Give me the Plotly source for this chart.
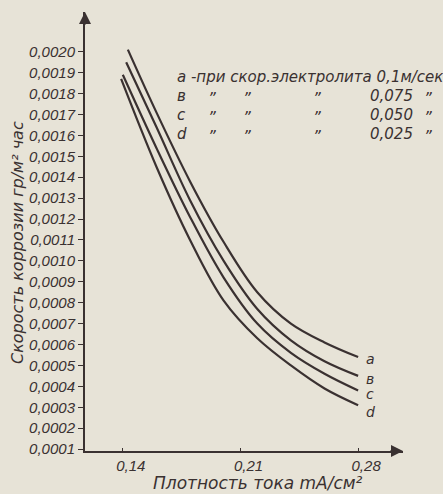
import plotly.graph_objects as go

# ---- data ----
x_a = [0.143, 0.16, 0.18, 0.20, 0.22, 0.24, 0.26, 0.28]
y_a = [0.00201, 0.00171, 0.00138, 0.00109, 0.00085, 0.00070, 0.00061, 0.00054]
x_b = [0.142, 0.16, 0.18, 0.20, 0.22, 0.24, 0.26, 0.28]
y_b = [0.00195, 0.00164, 0.00129, 0.00100, 0.00077, 0.00062, 0.00052, 0.00045]
x_c = [0.140, 0.16, 0.18, 0.20, 0.22, 0.24, 0.26, 0.28]
y_c = [0.00189, 0.00154, 0.00121, 0.00092, 0.00070, 0.00056, 0.00046, 0.00038]
x_d = [0.139, 0.16, 0.18, 0.20, 0.22, 0.24, 0.26, 0.28]
y_d = [0.00187, 0.00145, 0.00110, 0.00081, 0.00063, 0.00050, 0.00039, 0.00031]

curve_labels = ["a", "в", "c", "d"]
speeds = ["0,1м/сек", "0,075", "0,050", "0,025"]

x_tickvals = [0.14, 0.21, 0.28]
x_ticktext = ["0,14", "0,21", "0,28"]
y_tickvals = [i / 10000 for i in range(1, 21)]
y_ticktext = ["0,%04d" % i for i in range(1, 21)]

x_title = "Плотность тока mA/см²"
y_title = "Скорость коррозии гр/м² час"

# ---- style ----
BG = "#e7e3d7"
INK = "#3a3131"
FONT = "Liberation Sans, DejaVu Sans, sans-serif"
FONT2 = "DejaVu Sans, Liberation Sans, sans-serif"

W, H = 443, 494
L, R, T, B = 85, 40, 12, 43
PW, PH = W - L - R, H - T - B


def pp(px, py):
    return (px - L) / PW, (H - B - py) / PH


fig = go.Figure()
series = [(x_a, y_a), (x_b, y_b), (x_c, y_c), (x_d, y_d)]
for (xs, ys), lab in zip(series, curve_labels):
    fig.add_trace(go.Scatter(x=xs, y=ys, mode="lines", name=lab,
                             line=dict(color=INK, width=2.2, shape="spline", smoothing=1.0),
                             hoverinfo="skip"))

annotations = []
# curve-end labels
for (xs, ys), lab, ysh in zip(series, curve_labels, [-2, -3, -3, -7]):
    annotations.append(dict(x=xs[-1], y=ys[-1], xref="x", yref="y", text=lab, showarrow=False,
                            xanchor="left", yanchor="middle", xshift=6, yshift=ysh,
                            font=dict(family=FONT2, size=14, color=INK, style="italic")))

# legend block
rows_py = [77, 96, 115, 134]
lx, ly = pp(175, rows_py[0])
annotations.append(dict(x=lx, y=ly, xref="paper", yref="paper", showarrow=False,
                        xanchor="left", yanchor="middle",
                        text=curve_labels[0] + " -при скор.электролита " + speeds[0],
                        font=dict(family=FONT2, size=15, color=INK, style="italic")))
for i in range(1, 4):
    py = rows_py[i]
    for px, txt, anc in [(175, curve_labels[i], "left"), (212, "”", "center"),
                         (247, "”", "center"), (317, "”", "center"),
                         (368, speeds[i], "left"), (428, "”", "center")]:
        ax_, ay_ = pp(px, py)
        annotations.append(dict(x=ax_, y=ay_, xref="paper", yref="paper", showarrow=False,
                                xanchor=anc, yanchor="middle", text=txt,
                                yshift=-3 if txt == "”" else 0,
                                font=dict(family=FONT2, size=15,
                                          color=INK, style="italic")))

# axis titles
tx, ty = pp(258, 483)
annotations.append(dict(x=tx, y=ty, xref="paper", yref="paper", showarrow=False,
                        xanchor="center", yanchor="middle", text=x_title,
                        font=dict(family=FONT2, size=17, color=INK, style="italic")))
tx, ty = pp(17, 243)
annotations.append(dict(x=tx, y=ty, xref="paper", yref="paper", showarrow=False,
                        xanchor="center", yanchor="middle", text=y_title, textangle=-90,
                        font=dict(family=FONT2, size=16, color=INK, style="italic")))

# axis arrows
annotations.append(dict(x=1, y=0, xref="paper", yref="paper", ax=-14, ay=0, text="",
                        showarrow=True, arrowhead=2, arrowsize=1.2, arrowwidth=2, arrowcolor=INK))
annotations.append(dict(x=0, y=1, xref="paper", yref="paper", ax=0, ay=14, text="",
                        showarrow=True, arrowhead=2, arrowsize=1.2, arrowwidth=2, arrowcolor=INK))

fig.update_layout(
    width=W, height=H, margin=dict(l=L, r=R, t=T, b=B),
    paper_bgcolor=BG, plot_bgcolor=BG, showlegend=False,
    annotations=annotations,
    xaxis=dict(range=[0.1175, 0.3067], showgrid=False, zeroline=False, showline=True,
               linecolor=INK, linewidth=2, ticks="inside", ticklen=3, tickcolor=INK,
               tickvals=x_tickvals, ticktext=x_ticktext, ticklabelshift=8,
               tickfont=dict(family=FONT, size=15, color=INK, style="italic")),
    yaxis=dict(range=[0.0000908, 0.00219], showgrid=False, zeroline=False, showline=True,
               linecolor=INK, linewidth=2, ticks="outside", ticklen=5, tickcolor=INK,
               tickvals=y_tickvals, ticktext=y_ticktext,
               tickfont=dict(family=FONT, size=15, color=INK, style="italic")),
)

fig.write_html("out.html", config={"displayModeBar": False},
               post_script="document.body.style.margin='0';"
                           "document.body.style.background='" + BG + "';")
